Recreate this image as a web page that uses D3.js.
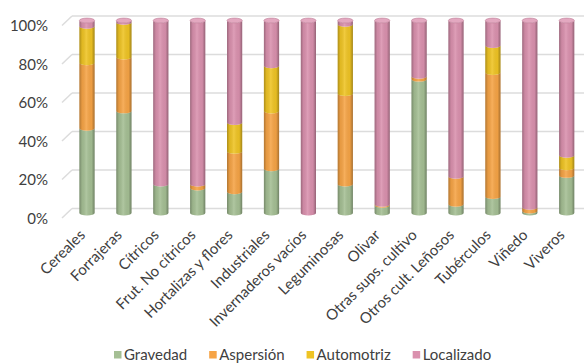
<!DOCTYPE html>
<html><head><meta charset="utf-8">
<script src="https://cdn.jsdelivr.net/npm/d3@7"></script>
<style>body{margin:0;background:#fff}svg{display:block}</style>
</head><body>
<svg id="c" width="584" height="363"></svg>
<script>
const categories = ["Cereales","Forrajeras","Cítricos","Frut. No cítricos","Hortalizas y flores","Industriales","Invernaderos vacíos","Leguminosas","Olivar","Otras sups. cultivo","Otros cult. Leñosos","Tubérculos","Viñedo","Viveros"];
const seriesNames = ["Gravedad","Aspersión","Automotriz","Localizado"];
const gravedad   = [44, 53, 15, 13, 11, 23, 0, 15, 4, 69.5, 4.5, 8.5, 1, 19.5];
const aspersion  = [34, 28, 0, 2, 21, 30, 0, 47, 0.5, 1.5, 14.5, 64.5, 2, 4];
const automotriz = [19, 18, 0, 0, 15, 23.5, 0, 36, 0, 0, 0, 14, 0, 6.5];
const localizado = [3, 1, 85, 85, 53, 23.5, 100, 2, 95.5, 29, 81, 13, 97, 70];
const yTicks = [0, 20, 40, 60, 80, 100];
const colors = ["#a5bf94", "#f6a446", "#efc424", "#da91ae"];
const capColors = ["#bbcfab", "#f9bb74", "#f4d35a", "#e3a8c0"];

const svg = d3.select("#c");
const fontFam = "Lato, 'Open Sans', sans-serif";
const x = d3.scalePoint().domain(categories).range([87, 566.7]);
const y = d3.scaleLinear().domain([0, 100]).range([213, 20.5]);
const rx = 7.6, ry = 2.4;

// gridlines (back wall) and slanted stubs
const grid = svg.append("g");
yTicks.forEach(t => {
  const yb = y(t) - 4.5;
  grid.append("line").attr("x1", 72).attr("x2", 584).attr("y1", yb).attr("y2", yb)
    .attr("stroke", "#dcdcdc").attr("stroke-width", 1.5);
  grid.append("line").attr("x1", 62).attr("x2", 72).attr("y1", yb + 9.5).attr("y2", yb)
    .attr("stroke", "#dcdcdc").attr("stroke-width", 1.5);
});
// y labels
const yAxis = d3.axisLeft(y).tickValues(yTicks).tickFormat(d => d + "%").tickSize(0);
const ya = svg.append("g").attr("transform", "translate(48,5.5)").call(yAxis);
ya.select(".domain").remove();
ya.selectAll("text").attr("font-family", fontFam).attr("font-size", 15).attr("fill", "#404040").attr("x", 0);

// shading gradient
const defs = svg.append("defs");
const g = defs.append("linearGradient").attr("id", "shade").attr("x1", 0).attr("x2", 1).attr("y1", 0).attr("y2", 0);
[[0, "#000", 0.28], [0.18, "#000", 0.06], [0.45, "#fff", 0.12], [0.8, "#000", 0.04], [1, "#000", 0.32]].forEach(s =>
  g.append("stop").attr("offset", s[0]).attr("stop-color", s[1]).attr("stop-opacity", s[2]));

const stackData = categories.map((c, i) => ({cat: c, v: [gravedad[i], aspersion[i], automotriz[i], localizado[i]]}));
const bars = svg.append("g");
stackData.forEach(d => {
  const cx = x(d.cat), l = cx - rx, r = cx + rx;
  let acc = 0, topIdx = 0;
  const gb = bars.append("g");
  d.v.forEach((v, k) => {
    if (v <= 0) return;
    const y0 = y(acc), y1 = y(acc + v);
    acc += v; topIdx = k;
    gb.append("path")
      .attr("d", `M${l},${y1} L${l},${y0} A${rx},${ry} 0 0 0 ${r},${y0} L${r},${y1} A${rx},${ry} 0 0 1 ${l},${y1} Z`)
      .attr("fill", colors[k]);
  });
  const yt = y(100), yb0 = y(0);
  gb.append("path")
    .attr("d", `M${l},${yt} L${l},${yb0} A${rx},${ry} 0 0 0 ${r},${yb0} L${r},${yt} A${rx},${ry} 0 0 1 ${l},${yt} Z`)
    .attr("fill", "url(#shade)");
  gb.append("ellipse").attr("cx", cx).attr("cy", yt).attr("rx", rx).attr("ry", ry)
    .attr("fill", capColors[topIdx]).attr("stroke", d3.color(colors[topIdx]).darker(0.4)).attr("stroke-width", 0.6);
});

// x labels
const xl = svg.append("g");
categories.forEach(c => {
  xl.append("text").attr("transform", `translate(${x(c) - 1},${236}) rotate(-45)`)
    .attr("text-anchor", "end")
    .attr("font-family", fontFam).attr("font-size", 15).attr("fill", "#404040").text(c);
});

// legend
const leg = svg.append("g");
let lx = 0;
seriesNames.forEach((n, k) => {
  const it = leg.append("g").attr("transform", `translate(${lx},0)`);
  it.append("rect").attr("x", 0).attr("y", 351).attr("width", 7.5).attr("height", 7.5).attr("fill", colors[k]);
  const t = it.append("text").attr("x", 10).attr("y", 360).attr("font-family", fontFam).attr("font-size", 15)
    .attr("fill", "#404040").text(n);
  lx += 10 + t.node().getComputedTextLength() + 22;
});
leg.attr("transform", `translate(114,0)`);
</script>
</body></html>
